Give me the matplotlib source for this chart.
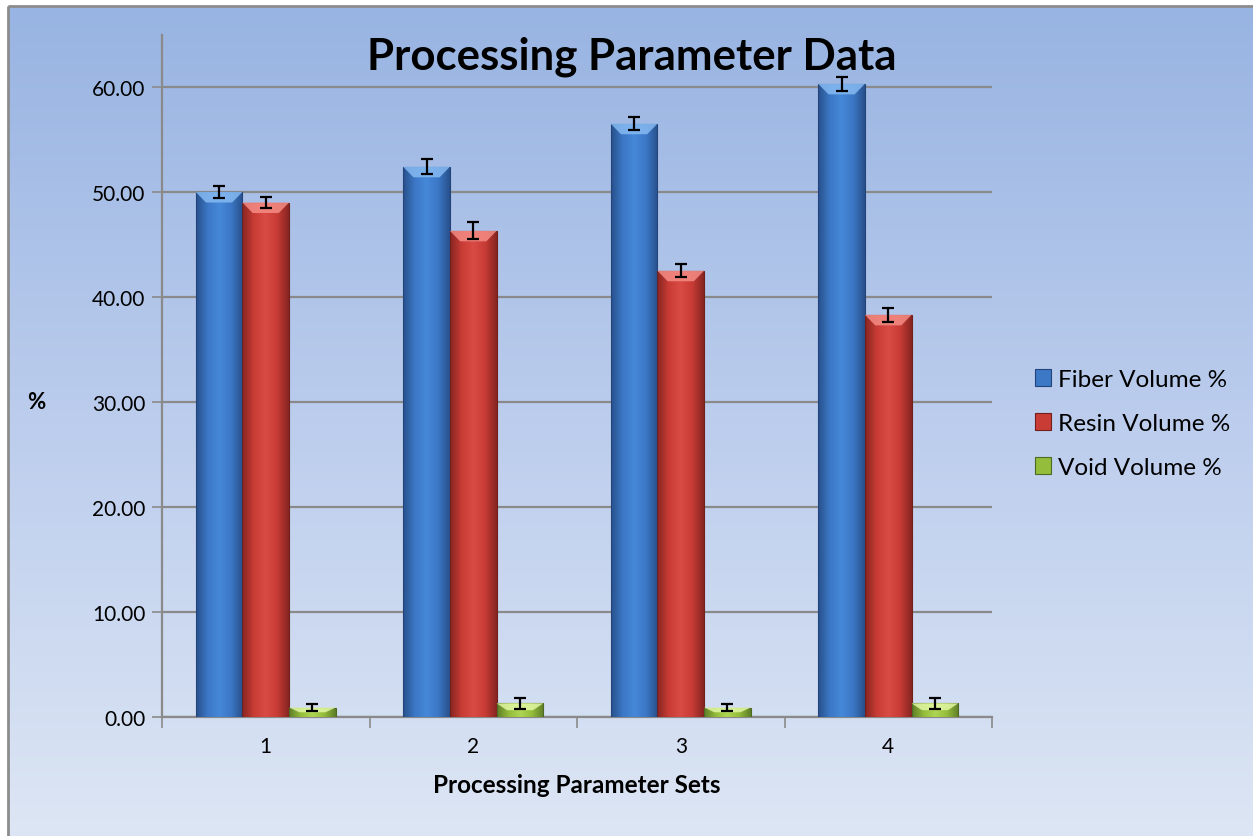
import numpy as np
import matplotlib
matplotlib.use('Agg')
import matplotlib.pyplot as plt
import matplotlib.patches as patches
from matplotlib.colors import LinearSegmentedColormap

# Dados
categorias = ['1', '2', '3', '4']
fibra = [50.0, 52.4, 56.5, 60.3]
fibra_err = [0.6, 0.7, 0.6, 0.7]
resina = [49.0, 46.3, 42.5, 38.3]
resina_err = [0.5, 0.8, 0.6, 0.7]
vazio = [0.9, 1.3, 0.9, 1.3]
vazio_err = [0.35, 0.55, 0.3, 0.55]
series = ['Fiber Volume %', 'Resin Volume %', 'Void Volume %']
y_ticks = [0, 10, 20, 30, 40, 50, 60]

plt.rcParams['font.family'] = ['Lato', 'DejaVu Sans']

W, H = 1253, 837
fig = plt.figure(figsize=(W / 100, H / 100), dpi=100)
fig.patch.set_facecolor('white')

# Fundo com gradiente (área do gráfico)
bg = fig.add_axes([0, 0, 1, 1], zorder=-5)
bg.set_xlim(0, W)
bg.set_ylim(H, 0)
bg.axis('off')
grad = np.linspace(0, 1, 256).reshape(-1, 1)
cmap_bg = LinearSegmentedColormap.from_list('bg', ['#98b4e2', '#bccded', '#dde6f4'])
bg.imshow(grad, cmap=cmap_bg, aspect='auto', extent=(8, W + 5, H + 5, 7), zorder=0)
bg.add_patch(patches.Rectangle((8, 7), W, H, fill=False, edgecolor='#8c8c8c', linewidth=2, zorder=1))

# Eixo principal
x0, x1, ytop, ybot = 162, 992, 35.5, 718
ax = fig.add_axes([x0 / W, 1 - ybot / H, (x1 - x0) / W, (ybot - ytop) / H])
ax.set_facecolor('none')

x = np.arange(len(categorias))
largura = 0.225
cores = [('#3c78c6', '#4a8ee0', '#22447a', '#86baf2'),
         ('#c93c36', '#e0504a', '#721f1c', '#f48c85'),
         ('#94bd3c', '#b8de5a', '#4e6a22', '#e2f7a4')]
dados = [(fibra, fibra_err), (resina, resina_err), (vazio, vazio_err)]

for i, ((vals, errs), (c_meio, c_claro, c_borda, c_topo)) in enumerate(zip(dados, cores)):
    pos = x + (i - 1) * largura
    barras = ax.bar(pos, vals, largura, color=c_meio, edgecolor=c_borda,
                    linewidth=0.8, label=series[i], zorder=3)
    cmap_bar = LinearSegmentedColormap.from_list('b%d' % i, [c_borda, c_meio, c_claro, c_meio, c_borda])
    for b in barras:
        bx, bw, bh = b.get_x(), b.get_width(), b.get_height()
        im = ax.imshow(np.linspace(0, 1, 64).reshape(1, -1), cmap=cmap_bar, aspect='auto',
                       extent=(bx, bx + bw, 0, bh), zorder=3.1, alpha=0.75)
        im.set_clip_path(b)
        # chanfro no topo
        dy = min(1.0, bh * 0.5)
        dx = bw * 0.22
        ax.add_patch(patches.Polygon([(bx, bh), (bx + bw, bh), (bx + bw - dx, bh - dy), (bx + dx, bh - dy)],
                                     closed=True, facecolor=c_topo, edgecolor='none', alpha=0.85, zorder=3.2))
    ax.errorbar(pos, vals, yerr=errs, fmt='none', ecolor='black', elinewidth=1.6,
                capsize=4.5, capthick=1.6, zorder=5)

ax.set_xlim(-0.5, len(categorias) - 0.5)
ax.set_ylim(0, 65)
ax.set_yticks(y_ticks)
ax.set_yticklabels(['%.2f' % v for v in y_ticks], fontsize=15)
ax.yaxis.grid(True, color='#8a8a8a', linewidth=1.6, zorder=0)
ax.set_axisbelow(True)

ax.set_xticks(x)
ax.set_xticklabels(categorias, fontsize=15)
ax.set_xticks(np.arange(len(categorias) + 1) - 0.5, minor=True)
ax.tick_params(axis='x', which='major', length=0, pad=14)
ax.tick_params(axis='x', which='minor', length=8, width=1.2, color='#8a8a8a', direction='out')
ax.tick_params(axis='y', length=7, width=1.2, color='#8a8a8a', direction='out', pad=5)

for s in ['top', 'right']:
    ax.spines[s].set_visible(False)
for s in ['left', 'bottom']:
    ax.spines[s].set_color('#8a8a8a')
    ax.spines[s].set_linewidth(1.6)

ax.set_xlabel('Processing Parameter Sets', fontsize=17.5, fontweight='bold', labelpad=12)
fig.text(36 / W, 1 - 403 / H, '%', fontsize=16, fontweight='bold', ha='center', va='center')
fig.text(632 / W, 1 - 57 / H, 'Processing Parameter Data', fontsize=31.5, fontweight='bold',
         ha='center', va='center')

handles, labels = ax.get_legend_handles_labels()
ax.legend(handles, labels, loc='center left', bbox_to_anchor=(1.052, 0.43), frameon=False,
          fontsize=17.5, handlelength=0.65, handleheight=0.65, labelspacing=0.95,
          handletextpad=0.3, borderpad=0, borderaxespad=0)

fig.savefig('out.png', dpi=100)
